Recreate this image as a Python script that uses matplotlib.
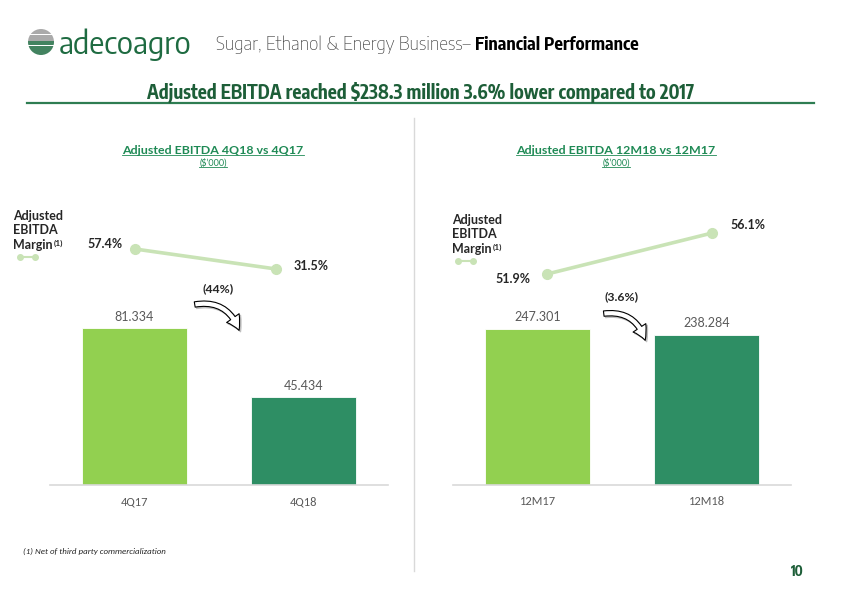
import numpy as np
import matplotlib
matplotlib.use('Agg')
import matplotlib.pyplot as plt
from matplotlib.patches import FancyArrowPatch, Circle

W, H = 842, 595

# data
quarter_labels = ['4Q17', '4Q18']
quarter_ebitda = [81.334, 45.434]
quarter_margin = [57.4, 31.5]
quarter_change = '(44%)'

year_labels = ['12M17', '12M18']
year_ebitda = [247.301, 238.284]
year_margin = [51.9, 56.1]
year_change = '(3.6%)'

LIGHT = '#92d050'
DARK = '#2e8e64'
LINE = '#c9e3b6'
GREY = '#595959'
TEXT = '#262626'
TITLE_GREEN = '#1f8a55'
BRAND = '#1e6b41'

BODY = ['Lato', 'DejaVu Sans']
CALIBRI = ['Carlito', 'Lato', 'DejaVu Sans']
COND = ['Encode Sans Condensed', 'Roboto Condensed', 'DejaVu Sans']
SEMI = ['Encode Sans Semi Condensed'] + COND
plt.rcParams['font.family'] = BODY


def px_rect(x0, y0, x1, y1):
    """pixel box (top-left origin) -> figure fraction rect"""
    return [x0 / W, 1 - y1 / H, (x1 - x0) / W, (y1 - y0) / H]


def bar_panel(fig, rect, labels, values, ymax):
    ax = fig.add_axes(px_rect(*rect))
    x = np.arange(len(values))
    bars = ax.bar(x, values, width=0.625, color=[LIGHT, DARK], edgecolor='white', linewidth=0.6)
    ax.bar_label(bars, labels=[f'{v:.3f}' for v in values], padding=4,
                 color=GREY, fontsize=9)
    ax.set_xlim(-0.5, 1.5)
    ax.set_ylim(0, ymax)
    ax.set_xticks(x, labels, family=CALIBRI)
    ax.set_yticks([])
    ax.tick_params(length=0, pad=8, colors=GREY, labelsize=9)
    for s in ['top', 'right', 'left']:
        ax.spines[s].set_visible(False)
    ax.spines['bottom'].set_color('#d9d9d9')
    ax.spines['bottom'].set_linewidth(1.2)
    ax.patch.set_alpha(0)
    return ax


def margin_panel(fig, rect, values, xlim, ylim, offsets):
    ax = fig.add_axes(px_rect(*rect))
    x = np.arange(len(values))
    ax.plot(x, values, color=LINE, lw=2.6, marker='o', ms=7, solid_capstyle='round')
    for xi, v, off in zip(x, values, offsets):
        ax.annotate(f'{v:.1f}%', (xi, v), xytext=off, textcoords='offset points',
                    ha='center', va='center', fontsize=9, fontweight='bold', color=TEXT)
    ax.set_xlim(*xlim)
    ax.set_ylim(*ylim)
    ax.axis('off')
    return ax


def to_px(bg, renderer, artist):
    bb = artist.get_window_extent(renderer)
    inv = bg.transData.inverted()
    (x0, y0), (x1, y1) = inv.transform([[bb.x0, bb.y0], [bb.x1, bb.y1]])
    return x0, y0, x1, y1


def underlined(bg, renderer, x, y, s, size, weight):
    t = bg.text(x, y, s, ha='center', va='center', fontsize=size, fontweight=weight,
                color=TITLE_GREEN)
    x0, y0, x1, y1 = to_px(bg, renderer, t)
    bg.plot([x0, x1], [y0 - 0.5, y0 - 0.5], color=TITLE_GREEN, lw=0.6)


def curved_arrow(bg, start, end):
    kw = dict(connectionstyle='arc3,rad=-0.45',
              arrowstyle='simple,head_length=0.9,head_width=1.0,tail_width=0.35',
              mutation_scale=11, lw=0.8)
    shadow = FancyArrowPatch((start[0] + 1.5, start[1] + 1.5), (end[0] + 1.5, end[1] + 1.5),
                             fc='#bfbfbf', ec='#bfbfbf', **kw)
    arrow = FancyArrowPatch(start, end, fc='white', ec='black', **kw)
    bg.add_patch(shadow)
    bg.add_patch(arrow)


def main():
    fig = plt.figure(figsize=(W / 100, H / 100), dpi=100)

    # bar charts
    bar_panel(fig, (50, 180, 388, 485), quarter_labels, quarter_ebitda, 158.3)
    bar_panel(fig, (453, 180, 791, 485), year_labels, year_ebitda, 483.5)

    # margin lines
    margin_panel(fig, (100, 230, 311, 290), quarter_margin, (-0.248, 1.248), (4.3, 82.0),
                 [(-21.6, 3.6), (25.2, 2.2)])
    margin_panel(fig, (500, 210, 760, 300), year_margin, (-0.285, 1.291), (49.24, 58.46),
                 [(-24.5, -3.6), (25.9, 5.8)])

    # overlay in pixel coordinates for slide decorations
    bg = fig.add_axes([0, 0, 1, 1])
    bg.set_xlim(0, W)
    bg.set_ylim(H, 0)
    bg.axis('off')
    bg.patch.set_alpha(0)
    renderer = fig.canvas.get_renderer()

    # logo
    circ = Circle((41, 42), 13, transform=bg.transData)
    for yy in np.arange(29, 56, 2.2):
        c = '#9a9a9a' if yy < 42 else BRAND
        ln, = bg.plot([27, 55], [yy, yy], color=c, lw=1.2)
        ln.set_clip_path(circ)
    bg.text(59, 45, 'adecoagro', family=SEMI, fontsize=22.5, color=BRAND,
            va='center', ha='left')

    t1 = bg.text(216, 45, 'Sugar, Ethanol & Energy Business\u2013 ', family=SEMI,
                 fontsize=13.5, fontweight='light', color='#404040', va='center', ha='left')
    x_end = to_px(bg, renderer, t1)[2]
    bg.text(x_end, 45, 'Financial Performance', family=COND, fontsize=12.8,
            fontweight='bold', color='black', va='center', ha='left')

    bg.text(421, 92, 'Adjusted EBITDA reached $238.3 million 3.6% lower compared to 2017',
            family=COND, fontsize=13.6, fontweight='bold', color='#1d5e38',
            ha='center', va='center')
    bg.plot([27, 814], [103, 103], color='#2e7d52', lw=1.6)

    # divider
    bg.plot([414, 414], [118, 571], color='#d9d9d9', lw=1)

    # panel titles
    underlined(bg, renderer, 213, 150, 'Adjusted EBITDA 4Q18 vs 4Q17', 8.9, 'bold')
    underlined(bg, renderer, 213, 163, "($\u2019000)", 6.5, 'normal')
    underlined(bg, renderer, 616, 150, 'Adjusted EBITDA 12M18 vs 12M17', 8.9, 'bold')
    underlined(bg, renderer, 616, 163, "($\u2019000)", 6.5, 'normal')

    # margin legend glyphs
    for (lx, ly, mx, my) in [(13, 216, 20, 257), (452, 220, 458, 261)]:
        for i, word in enumerate(['Adjusted', 'EBITDA', 'Margin']):
            tm = bg.text(lx, ly + i * 14.5, word, fontsize=9, fontweight='bold',
                         color=TEXT, va='center', ha='left')
        x_m = to_px(bg, renderer, tm)[2]
        bg.text(x_m + 1, ly + 27, '(1)', fontsize=6, fontweight='bold', color=TEXT,
                va='center', ha='left')
        bg.plot([mx, mx + 15], [my, my], color=LINE, lw=1.5, marker='o', ms=4)

    # change arrows
    bg.text(218, 289, quarter_change, fontsize=8.8, fontweight='bold', color=TEXT,
            ha='center', va='center')
    curved_arrow(bg, (192, 305), (240, 333))
    bg.text(622, 297, year_change, fontsize=8.8, fontweight='bold', color=TEXT,
            ha='center', va='center')
    curved_arrow(bg, (601, 314), (646, 343))

    # footnote and page number
    bg.text(23, 551, '(1) Net of third party commercialization', family=CALIBRI,
            fontsize=6.4, style='italic', color=TEXT, va='center', ha='left')
    bg.text(797, 572, '10', family=COND, fontsize=10, fontweight='bold',
            color='#1d5e38', va='center', ha='center')

    fig.savefig('out.png', dpi=100)


if __name__ == '__main__':
    main()
